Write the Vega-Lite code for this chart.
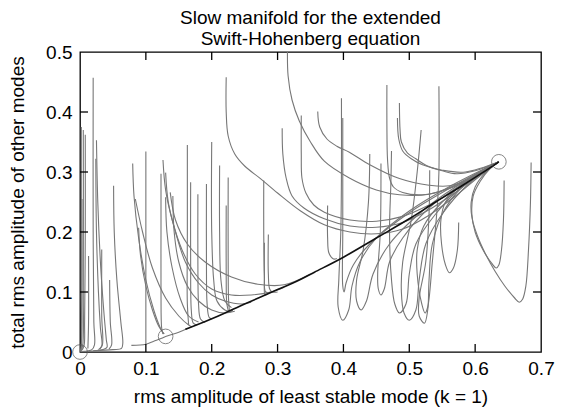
{
  "$schema": "https://vega.github.io/schema/vega-lite/v6.json",
  "autosize": "none",
  "width": 461,
  "height": 300,
  "padding": {"left": 80, "top": 52, "right": 29, "bottom": 62},
  "background": "white",
  "config": {
    "font": "Liberation Sans",
    "view": {"stroke": "#000", "strokeWidth": 1.3},
    "axis": {"domain": false, "ticks": false, "tickSize": 0, "grid": false, "labelColor": "#000", "titleColor": "#000", "labelFontSize": 19, "titleFontSize": 19, "titleFontWeight": "normal", "labelFont": "Liberation Sans", "titleFont": "Liberation Sans", "labelFlush": false, "labelOverlap": false}
  },
  "title": {"text": ["Slow manifold for the extended", "Swift-Hohenberg equation"], "fontSize": 19, "fontWeight": "normal", "font": "Liberation Sans", "color": "#000", "anchor": "middle", "frame": "group", "offset": -6, "lineHeight": 21},
  "datasets": {
    "xt": [{"v":0.1},{"v":0.2},{"v":0.3},{"v":0.4},{"v":0.5},{"v":0.6}],
    "yt": [{"v":0.1},{"v":0.2},{"v":0.3},{"v":0.4}],
    "traj": [
      {"i":"A1","o":1,"x":0.002,"y":0.375},{"i":"A1","o":2,"x":0.002,"y":0.1},{"i":"A1","o":3,"x":0.002,"y":0.01},{"i":"A1","o":4,"x":0,"y":0},
      {"i":"A2","o":1,"x":0.005,"y":0.37},{"i":"A2","o":2,"x":0.005,"y":0.1},{"i":"A2","o":3,"x":0.004,"y":0.01},{"i":"A2","o":4,"x":0.001,"y":0.001},
      {"i":"A3","o":1,"x":0.008,"y":0.362},{"i":"A3","o":2,"x":0.008,"y":0.2},{"i":"A3","o":3,"x":0.007,"y":0.05},{"i":"A3","o":4,"x":0.006,"y":0.01},{"i":"A3","o":5,"x":0.002,"y":0.002},
      {"i":"A4","o":1,"x":0.003,"y":0.255},{"i":"A4","o":2,"x":0.003,"y":0.05},{"i":"A4","o":3,"x":0.002,"y":0.005},
      {"i":"A5","o":1,"x":0.02,"y":0.457},{"i":"A5","o":2,"x":0.02,"y":0.2},{"i":"A5","o":3,"x":0.021,"y":0.05},{"i":"A5","o":4,"x":0.022,"y":0.012},{"i":"A5","o":5,"x":0.018,"y":0.004},{"i":"A5","o":6,"x":0.005,"y":0.001},
      {"i":"A6","o":1,"x":0.025,"y":0.353},{"i":"A6","o":2,"x":0.027,"y":0.25},{"i":"A6","o":3,"x":0.031,"y":0.15},{"i":"A6","o":4,"x":0.036,"y":0.07},{"i":"A6","o":5,"x":0.04,"y":0.02},{"i":"A6","o":6,"x":0.041,"y":0.008},{"i":"A6","o":7,"x":0.035,"y":0.004},{"i":"A6","o":8,"x":0.01,"y":0.001},
      {"i":"A7","o":1,"x":0.024,"y":0.322},{"i":"A7","o":2,"x":0.025,"y":0.2},{"i":"A7","o":3,"x":0.028,"y":0.1},{"i":"A7","o":4,"x":0.031,"y":0.04},{"i":"A7","o":5,"x":0.033,"y":0.01},{"i":"A7","o":6,"x":0.028,"y":0.004},
      {"i":"A8","o":1,"x":0.033,"y":0.171},{"i":"A8","o":2,"x":0.033,"y":0.06},{"i":"A8","o":3,"x":0.034,"y":0.012},{"i":"A8","o":4,"x":0.03,"y":0.005},
      {"i":"A9","o":1,"x":0.051,"y":0.277},{"i":"A9","o":2,"x":0.052,"y":0.2},{"i":"A9","o":3,"x":0.056,"y":0.12},{"i":"A9","o":4,"x":0.062,"y":0.05},{"i":"A9","o":5,"x":0.065,"y":0.015},{"i":"A9","o":6,"x":0.063,"y":0.006},{"i":"A9","o":7,"x":0.05,"y":0.004},{"i":"A9","o":8,"x":0.02,"y":0.002},
      {"i":"A10","o":1,"x":0.013,"y":0.16},{"i":"A10","o":2,"x":0.013,"y":0.05},{"i":"A10","o":3,"x":0.012,"y":0.006},
      {"i":"A11","o":1,"x":0.045,"y":0.12},{"i":"A11","o":2,"x":0.046,"y":0.05},{"i":"A11","o":3,"x":0.048,"y":0.012},{"i":"A11","o":4,"x":0.044,"y":0.005},
      {"i":"B1","o":1,"x":0.08,"y":0.314},{"i":"B1","o":2,"x":0.082,"y":0.26},{"i":"B1","o":3,"x":0.089,"y":0.19},{"i":"B1","o":4,"x":0.1,"y":0.12},{"i":"B1","o":5,"x":0.112,"y":0.07},{"i":"B1","o":6,"x":0.122,"y":0.04},{"i":"B1","o":7,"x":0.127,"y":0.03},
      {"i":"B2","o":1,"x":0.089,"y":0.207},{"i":"B2","o":2,"x":0.092,"y":0.16},{"i":"B2","o":3,"x":0.1,"y":0.11},{"i":"B2","o":4,"x":0.11,"y":0.07},{"i":"B2","o":5,"x":0.12,"y":0.042},{"i":"B2","o":6,"x":0.128,"y":0.03},
      {"i":"B3","o":1,"x":0.1,"y":0.334},{"i":"B3","o":2,"x":0.1,"y":0.2},{"i":"B3","o":3,"x":0.1,"y":0.05},{"i":"B3","o":4,"x":0.1,"y":0.013},
      {"i":"B4","o":1,"x":0.123,"y":0.297},{"i":"B4","o":2,"x":0.123,"y":0.2},{"i":"B4","o":3,"x":0.123,"y":0.1},{"i":"B4","o":4,"x":0.124,"y":0.04},{"i":"B4","o":5,"x":0.126,"y":0.03},
      {"i":"G","o":1,"x":0.078,"y":0.011},{"i":"G","o":2,"x":0.1,"y":0.013},{"i":"G","o":3,"x":0.112,"y":0.018},{"i":"G","o":4,"x":0.124,"y":0.023},{"i":"G","o":5,"x":0.13,"y":0.026},{"i":"G","o":6,"x":0.15,"y":0.033},{"i":"G","o":7,"x":0.165,"y":0.04},
      {"i":"C1","o":1,"x":0.13,"y":0.299},{"i":"C1","o":2,"x":0.134,"y":0.25},{"i":"C1","o":3,"x":0.145,"y":0.2},{"i":"C1","o":4,"x":0.16,"y":0.15},{"i":"C1","o":5,"x":0.18,"y":0.115},{"i":"C1","o":6,"x":0.2,"y":0.095},{"i":"C1","o":7,"x":0.22,"y":0.085},{"i":"C1","o":8,"x":0.245,"y":0.08},{"i":"C1","o":9,"x":0.26,"y":0.083},
      {"i":"C2","o":1,"x":0.141,"y":0.26},{"i":"C2","o":2,"x":0.143,"y":0.2},{"i":"C2","o":3,"x":0.15,"y":0.15},{"i":"C2","o":4,"x":0.163,"y":0.11},{"i":"C2","o":5,"x":0.18,"y":0.085},{"i":"C2","o":6,"x":0.2,"y":0.07},{"i":"C2","o":7,"x":0.22,"y":0.065},{"i":"C2","o":8,"x":0.235,"y":0.068},
      {"i":"C3","o":1,"x":0.126,"y":0.32},{"i":"C3","o":2,"x":0.13,"y":0.27},{"i":"C3","o":3,"x":0.14,"y":0.22},{"i":"C3","o":4,"x":0.155,"y":0.17},{"i":"C3","o":5,"x":0.175,"y":0.13},{"i":"C3","o":6,"x":0.2,"y":0.105},{"i":"C3","o":7,"x":0.23,"y":0.095},{"i":"C3","o":8,"x":0.26,"y":0.095},{"i":"C3","o":9,"x":0.29,"y":0.1},{"i":"C3","o":10,"x":0.31,"y":0.108},
      {"i":"C4","o":1,"x":0.084,"y":0.255},{"i":"C4","o":2,"x":0.095,"y":0.2},{"i":"C4","o":3,"x":0.11,"y":0.14},{"i":"C4","o":4,"x":0.13,"y":0.09},{"i":"C4","o":5,"x":0.15,"y":0.06},{"i":"C4","o":6,"x":0.165,"y":0.045},{"i":"C4","o":7,"x":0.17,"y":0.042},
      {"i":"C5","o":1,"x":0.13,"y":0.258},{"i":"C5","o":2,"x":0.132,"y":0.2},{"i":"C5","o":3,"x":0.14,"y":0.14},{"i":"C5","o":4,"x":0.152,"y":0.09},{"i":"C5","o":5,"x":0.165,"y":0.06},{"i":"C5","o":6,"x":0.18,"y":0.05},
      {"i":"C6","o":1,"x":0.137,"y":0.266},{"i":"C6","o":2,"x":0.145,"y":0.22},{"i":"C6","o":3,"x":0.163,"y":0.18},{"i":"C6","o":4,"x":0.19,"y":0.15},{"i":"C6","o":5,"x":0.23,"y":0.125},{"i":"C6","o":6,"x":0.27,"y":0.113},{"i":"C6","o":7,"x":0.31,"y":0.112},{"i":"C6","o":8,"x":0.35,"y":0.13},
      {"i":"E1","o":1,"x":0.163,"y":0.345},{"i":"E1","o":2,"x":0.163,"y":0.2},{"i":"E1","o":3,"x":0.163,"y":0.08},{"i":"E1","o":4,"x":0.165,"y":0.045},
      {"i":"E2","o":1,"x":0.168,"y":0.283},{"i":"E2","o":2,"x":0.168,"y":0.15},{"i":"E2","o":3,"x":0.169,"y":0.07},{"i":"E2","o":4,"x":0.172,"y":0.048},{"i":"E2","o":5,"x":0.178,"y":0.045},
      {"i":"E3","o":1,"x":0.179,"y":0.263},{"i":"E3","o":2,"x":0.179,"y":0.15},{"i":"E3","o":3,"x":0.18,"y":0.08},{"i":"E3","o":4,"x":0.183,"y":0.055},{"i":"E3","o":5,"x":0.19,"y":0.049},
      {"i":"E4","o":1,"x":0.192,"y":0.28},{"i":"E4","o":2,"x":0.192,"y":0.15},{"i":"E4","o":3,"x":0.193,"y":0.08},{"i":"E4","o":4,"x":0.196,"y":0.058},{"i":"E4","o":5,"x":0.2,"y":0.055},
      {"i":"E5","o":1,"x":0.2,"y":0.35},{"i":"E5","o":2,"x":0.2,"y":0.2},{"i":"E5","o":3,"x":0.203,"y":0.12},{"i":"E5","o":4,"x":0.208,"y":0.085},{"i":"E5","o":5,"x":0.22,"y":0.07},{"i":"E5","o":6,"x":0.226,"y":0.068},
      {"i":"E6","o":1,"x":0.212,"y":0.311},{"i":"E6","o":2,"x":0.212,"y":0.2},{"i":"E6","o":3,"x":0.214,"y":0.12},{"i":"E6","o":4,"x":0.22,"y":0.085},{"i":"E6","o":5,"x":0.23,"y":0.074},
      {"i":"E7","o":1,"x":0.225,"y":0.291},{"i":"E7","o":2,"x":0.225,"y":0.15},{"i":"E7","o":3,"x":0.226,"y":0.08},{"i":"E7","o":4,"x":0.228,"y":0.067},{"i":"E7","o":5,"x":0.232,"y":0.07},
      {"i":"E8","o":1,"x":0.222,"y":0.244},{"i":"E8","o":2,"x":0.222,"y":0.13},{"i":"E8","o":3,"x":0.223,"y":0.08},{"i":"E8","o":4,"x":0.226,"y":0.066},
      {"i":"E9","o":1,"x":0.279,"y":0.286},{"i":"E9","o":2,"x":0.279,"y":0.2},{"i":"E9","o":3,"x":0.28,"y":0.13},{"i":"E9","o":4,"x":0.282,"y":0.1},{"i":"E9","o":5,"x":0.29,"y":0.1},
      {"i":"E10","o":1,"x":0.28,"y":0.182},{"i":"E10","o":2,"x":0.28,"y":0.12},{"i":"E10","o":3,"x":0.281,"y":0.095},{"i":"E10","o":4,"x":0.285,"y":0.097},
      {"i":"E11","o":1,"x":0.286,"y":0.196},{"i":"E11","o":2,"x":0.286,"y":0.13},{"i":"E11","o":3,"x":0.288,"y":0.105},{"i":"E11","o":4,"x":0.292,"y":0.1},{"i":"E11","o":5,"x":0.3,"y":0.1},
      {"i":"F1","o":1,"x":0.376,"y":0.244},{"i":"F1","o":2,"x":0.376,"y":0.19},{"i":"F1","o":3,"x":0.378,"y":0.165},{"i":"F1","o":4,"x":0.385,"y":0.155},{"i":"F1","o":5,"x":0.39,"y":0.156},
      {"i":"D1","o":1,"x":0.315,"y":0.5},{"i":"D1","o":2,"x":0.316,"y":0.46},{"i":"D1","o":3,"x":0.322,"y":0.42},{"i":"D1","o":4,"x":0.333,"y":0.385},{"i":"D1","o":5,"x":0.35,"y":0.35},{"i":"D1","o":6,"x":0.371,"y":0.318},{"i":"D1","o":7,"x":0.409,"y":0.29},{"i":"D1","o":8,"x":0.45,"y":0.27},{"i":"D1","o":9,"x":0.485,"y":0.262},{"i":"D1","o":10,"x":0.53,"y":0.263},{"i":"D1","o":11,"x":0.57,"y":0.278},{"i":"D1","o":12,"x":0.61,"y":0.3},{"i":"D1","o":13,"x":0.636,"y":0.317},
      {"i":"D2","o":1,"x":0.222,"y":0.458},{"i":"D2","o":2,"x":0.222,"y":0.4},{"i":"D2","o":3,"x":0.225,"y":0.36},{"i":"D2","o":4,"x":0.235,"y":0.33},{"i":"D2","o":5,"x":0.25,"y":0.31},{"i":"D2","o":6,"x":0.274,"y":0.289},{"i":"D2","o":7,"x":0.3,"y":0.265},{"i":"D2","o":8,"x":0.335,"y":0.235},{"i":"D2","o":9,"x":0.371,"y":0.212},{"i":"D2","o":10,"x":0.41,"y":0.2},{"i":"D2","o":11,"x":0.45,"y":0.197},{"i":"D2","o":12,"x":0.49,"y":0.205},{"i":"D2","o":13,"x":0.53,"y":0.228},{"i":"D2","o":14,"x":0.57,"y":0.26},{"i":"D2","o":15,"x":0.6,"y":0.287},{"i":"D2","o":16,"x":0.636,"y":0.317},
      {"i":"D3","o":1,"x":0.307,"y":0.373},{"i":"D3","o":2,"x":0.308,"y":0.33},{"i":"D3","o":3,"x":0.313,"y":0.29},{"i":"D3","o":4,"x":0.322,"y":0.26},{"i":"D3","o":5,"x":0.34,"y":0.24},{"i":"D3","o":6,"x":0.371,"y":0.222},{"i":"D3","o":7,"x":0.41,"y":0.21},{"i":"D3","o":8,"x":0.45,"y":0.208},{"i":"D3","o":9,"x":0.49,"y":0.216},{"i":"D3","o":10,"x":0.53,"y":0.237},{"i":"D3","o":11,"x":0.57,"y":0.266},{"i":"D3","o":12,"x":0.6,"y":0.29},{"i":"D3","o":13,"x":0.636,"y":0.317},
      {"i":"D4","o":1,"x":0.336,"y":0.394},{"i":"D4","o":2,"x":0.336,"y":0.33},{"i":"D4","o":3,"x":0.337,"y":0.29},{"i":"D4","o":4,"x":0.343,"y":0.265},{"i":"D4","o":5,"x":0.355,"y":0.245},{"i":"D4","o":6,"x":0.371,"y":0.233},{"i":"D4","o":7,"x":0.41,"y":0.22},{"i":"D4","o":8,"x":0.45,"y":0.218},{"i":"D4","o":9,"x":0.49,"y":0.226},{"i":"D4","o":10,"x":0.53,"y":0.245},{"i":"D4","o":11,"x":0.57,"y":0.27},{"i":"D4","o":12,"x":0.6,"y":0.292},{"i":"D4","o":13,"x":0.636,"y":0.317},
      {"i":"D5","o":1,"x":0.361,"y":0.401},{"i":"D5","o":2,"x":0.364,"y":0.375},{"i":"D5","o":3,"x":0.375,"y":0.355},{"i":"D5","o":4,"x":0.39,"y":0.343},{"i":"D5","o":5,"x":0.409,"y":0.333},{"i":"D5","o":6,"x":0.44,"y":0.312},{"i":"D5","o":7,"x":0.485,"y":0.289},{"i":"D5","o":8,"x":0.53,"y":0.278},{"i":"D5","o":9,"x":0.561,"y":0.277},{"i":"D5","o":10,"x":0.6,"y":0.292},{"i":"D5","o":11,"x":0.636,"y":0.317},
      {"i":"D6","o":1,"x":0.485,"y":0.415},{"i":"D6","o":2,"x":0.486,"y":0.37},{"i":"D6","o":3,"x":0.488,"y":0.35},{"i":"D6","o":4,"x":0.497,"y":0.332},{"i":"D6","o":5,"x":0.51,"y":0.322},{"i":"D6","o":6,"x":0.526,"y":0.311},{"i":"D6","o":7,"x":0.55,"y":0.302},{"i":"D6","o":8,"x":0.572,"y":0.297},{"i":"D6","o":9,"x":0.6,"y":0.302},{"i":"D6","o":10,"x":0.636,"y":0.317},
      {"i":"D7","o":1,"x":0.482,"y":0.39},{"i":"D7","o":2,"x":0.484,"y":0.355},{"i":"D7","o":3,"x":0.49,"y":0.335},{"i":"D7","o":4,"x":0.503,"y":0.322},{"i":"D7","o":5,"x":0.52,"y":0.312},{"i":"D7","o":6,"x":0.55,"y":0.303},{"i":"D7","o":7,"x":0.585,"y":0.3},{"i":"D7","o":8,"x":0.636,"y":0.317},
      {"i":"D8","o":1,"x":0.466,"y":0.445},{"i":"D8","o":2,"x":0.466,"y":0.38},{"i":"D8","o":3,"x":0.467,"y":0.32},{"i":"D8","o":4,"x":0.47,"y":0.29},{"i":"D8","o":5,"x":0.476,"y":0.275},{"i":"D8","o":6,"x":0.49,"y":0.266},{"i":"D8","o":7,"x":0.52,"y":0.262},{"i":"D8","o":8,"x":0.56,"y":0.272},{"i":"D8","o":9,"x":0.6,"y":0.292},{"i":"D8","o":10,"x":0.636,"y":0.317},
      {"i":"L1","o":1,"x":0.397,"y":0.423},{"i":"L1","o":2,"x":0.397,"y":0.3},{"i":"L1","o":3,"x":0.396,"y":0.2},{"i":"L1","o":4,"x":0.393,"y":0.12},{"i":"L1","o":5,"x":0.392,"y":0.075},{"i":"L1","o":6,"x":0.399,"y":0.053},{"i":"L1","o":7,"x":0.408,"y":0.07},{"i":"L1","o":8,"x":0.413,"y":0.11},{"i":"L1","o":9,"x":0.425,"y":0.15},{"i":"L1","o":10,"x":0.45,"y":0.19},{"i":"L1","o":11,"x":0.5,"y":0.235},{"i":"L1","o":12,"x":0.56,"y":0.275},{"i":"L1","o":13,"x":0.636,"y":0.317},
      {"i":"L1b","o":1,"x":0.399,"y":0.39},{"i":"L1b","o":2,"x":0.399,"y":0.2},{"i":"L1b","o":3,"x":0.399,"y":0.11},{"i":"L1b","o":4,"x":0.401,"y":0.1},{"i":"L1b","o":5,"x":0.404,"y":0.115},{"i":"L1b","o":6,"x":0.415,"y":0.145},{"i":"L1b","o":7,"x":0.44,"y":0.18},{"i":"L1b","o":8,"x":0.5,"y":0.232},{"i":"L1b","o":9,"x":0.56,"y":0.272},{"i":"L1b","o":10,"x":0.636,"y":0.317},
      {"i":"L2","o":1,"x":0.44,"y":0.33},{"i":"L2","o":2,"x":0.438,"y":0.25},{"i":"L2","o":3,"x":0.43,"y":0.17},{"i":"L2","o":4,"x":0.42,"y":0.12},{"i":"L2","o":5,"x":0.42,"y":0.085},{"i":"L2","o":6,"x":0.427,"y":0.07},{"i":"L2","o":7,"x":0.435,"y":0.085},{"i":"L2","o":8,"x":0.445,"y":0.13},{"i":"L2","o":9,"x":0.47,"y":0.18},{"i":"L2","o":10,"x":0.52,"y":0.235},{"i":"L2","o":11,"x":0.57,"y":0.275},{"i":"L2","o":12,"x":0.636,"y":0.317},
      {"i":"L3","o":1,"x":0.457,"y":0.314},{"i":"L3","o":2,"x":0.456,"y":0.2},{"i":"L3","o":3,"x":0.452,"y":0.13},{"i":"L3","o":4,"x":0.453,"y":0.105},{"i":"L3","o":5,"x":0.457,"y":0.095},{"i":"L3","o":6,"x":0.462,"y":0.105},{"i":"L3","o":7,"x":0.47,"y":0.15},{"i":"L3","o":8,"x":0.49,"y":0.19},{"i":"L3","o":9,"x":0.53,"y":0.24},{"i":"L3","o":10,"x":0.58,"y":0.28},{"i":"L3","o":11,"x":0.636,"y":0.317},
      {"i":"L4","o":1,"x":0.473,"y":0.335},{"i":"L4","o":2,"x":0.472,"y":0.28},{"i":"L4","o":3,"x":0.47,"y":0.2},{"i":"L4","o":4,"x":0.473,"y":0.12},{"i":"L4","o":5,"x":0.478,"y":0.08},{"i":"L4","o":6,"x":0.485,"y":0.065},{"i":"L4","o":7,"x":0.495,"y":0.08},{"i":"L4","o":8,"x":0.5,"y":0.13},{"i":"L4","o":9,"x":0.51,"y":0.18},{"i":"L4","o":10,"x":0.54,"y":0.23},{"i":"L4","o":11,"x":0.58,"y":0.275},{"i":"L4","o":12,"x":0.636,"y":0.317},
      {"i":"L5","o":1,"x":0.518,"y":0.37},{"i":"L5","o":2,"x":0.512,"y":0.3},{"i":"L5","o":3,"x":0.503,"y":0.22},{"i":"L5","o":4,"x":0.49,"y":0.15},{"i":"L5","o":5,"x":0.488,"y":0.1},{"i":"L5","o":6,"x":0.492,"y":0.065},{"i":"L5","o":7,"x":0.5,"y":0.053},{"i":"L5","o":8,"x":0.51,"y":0.07},{"i":"L5","o":9,"x":0.515,"y":0.12},{"i":"L5","o":10,"x":0.525,"y":0.18},{"i":"L5","o":11,"x":0.55,"y":0.23},{"i":"L5","o":12,"x":0.59,"y":0.28},{"i":"L5","o":13,"x":0.636,"y":0.317},
      {"i":"L6","o":1,"x":0.531,"y":0.303},{"i":"L6","o":2,"x":0.53,"y":0.23},{"i":"L6","o":3,"x":0.525,"y":0.15},{"i":"L6","o":4,"x":0.515,"y":0.09},{"i":"L6","o":5,"x":0.515,"y":0.06},{"i":"L6","o":6,"x":0.523,"y":0.048},{"i":"L6","o":7,"x":0.528,"y":0.07},{"i":"L6","o":8,"x":0.53,"y":0.12},{"i":"L6","o":9,"x":0.535,"y":0.18},{"i":"L6","o":10,"x":0.555,"y":0.24},{"i":"L6","o":11,"x":0.59,"y":0.285},{"i":"L6","o":12,"x":0.636,"y":0.317},
      {"i":"L7","o":1,"x":0.545,"y":0.443},{"i":"L7","o":2,"x":0.545,"y":0.3},{"i":"L7","o":3,"x":0.543,"y":0.25},{"i":"L7","o":4,"x":0.535,"y":0.15},{"i":"L7","o":5,"x":0.528,"y":0.075},{"i":"L7","o":6,"x":0.524,"y":0.065},{"i":"L7","o":7,"x":0.519,"y":0.08},{"i":"L7","o":8,"x":0.512,"y":0.13},{"i":"L7","o":9,"x":0.512,"y":0.17},{"i":"L7","o":10,"x":0.522,"y":0.21},{"i":"L7","o":11,"x":0.55,"y":0.25},{"i":"L7","o":12,"x":0.6,"y":0.295},{"i":"L7","o":13,"x":0.636,"y":0.317},
      {"i":"L8","o":1,"x":0.575,"y":0.216},{"i":"L8","o":2,"x":0.573,"y":0.17},{"i":"L8","o":3,"x":0.567,"y":0.14},{"i":"L8","o":4,"x":0.561,"y":0.132},{"i":"L8","o":5,"x":0.555,"y":0.145},{"i":"L8","o":6,"x":0.549,"y":0.18},{"i":"L8","o":7,"x":0.548,"y":0.22},{"i":"L8","o":8,"x":0.555,"y":0.25},{"i":"L8","o":9,"x":0.58,"y":0.28},{"i":"L8","o":10,"x":0.61,"y":0.302},{"i":"L8","o":11,"x":0.636,"y":0.317},
      {"i":"R1","o":1,"x":0.685,"y":0.316},{"i":"R1","o":2,"x":0.684,"y":0.25},{"i":"R1","o":3,"x":0.681,"y":0.17},{"i":"R1","o":4,"x":0.677,"y":0.11},{"i":"R1","o":5,"x":0.672,"y":0.088},{"i":"R1","o":6,"x":0.667,"y":0.083},{"i":"R1","o":7,"x":0.66,"y":0.09},{"i":"R1","o":8,"x":0.645,"y":0.11},{"i":"R1","o":9,"x":0.63,"y":0.135},{"i":"R1","o":10,"x":0.615,"y":0.165},{"i":"R1","o":11,"x":0.603,"y":0.195},{"i":"R1","o":12,"x":0.595,"y":0.225},{"i":"R1","o":13,"x":0.594,"y":0.25},{"i":"R1","o":14,"x":0.6,"y":0.275},{"i":"R1","o":15,"x":0.615,"y":0.298},{"i":"R1","o":16,"x":0.636,"y":0.317},
      {"i":"R2","o":1,"x":0.644,"y":0.286},{"i":"R2","o":2,"x":0.643,"y":0.22},{"i":"R2","o":3,"x":0.64,"y":0.17},{"i":"R2","o":4,"x":0.636,"y":0.145},{"i":"R2","o":5,"x":0.632,"y":0.14},{"i":"R2","o":6,"x":0.625,"y":0.148},{"i":"R2","o":7,"x":0.612,"y":0.17},{"i":"R2","o":8,"x":0.6,"y":0.2},{"i":"R2","o":9,"x":0.595,"y":0.23},{"i":"R2","o":10,"x":0.597,"y":0.26},{"i":"R2","o":11,"x":0.608,"y":0.285},{"i":"R2","o":12,"x":0.622,"y":0.305},{"i":"R2","o":13,"x":0.636,"y":0.317}
    ],
    "manifold": [
      {"o":1,"x":0.16,"y":0.038},{"o":2,"x":0.17,"y":0.042},{"o":3,"x":0.21,"y":0.06},{"o":4,"x":0.25,"y":0.08},{"o":5,"x":0.3,"y":0.104},{"o":6,"x":0.333,"y":0.12},{"o":7,"x":0.356,"y":0.133},{"o":8,"x":0.4,"y":0.158},{"o":9,"x":0.45,"y":0.19},{"o":10,"x":0.5,"y":0.222},{"o":11,"x":0.54,"y":0.25},{"o":12,"x":0.58,"y":0.277},{"o":13,"x":0.61,"y":0.298},{"o":14,"x":0.636,"y":0.317}
    ],
    "fixed": [
      {"x":0,"y":0},{"x":0.13,"y":0.026},{"x":0.636,"y":0.317}
    ]
  },
  "layer": [
    {
      "data": {"name": "traj"},
      "mark": {"type": "line", "stroke": "#777", "strokeWidth": 1.1, "clip": true, "interpolate": "catmull-rom"},
      "encoding": {
        "x": {"field": "x", "type": "quantitative", "scale": {"domain": [0, 0.7], "nice": false, "zero": false},
              "axis": {"orient": "bottom", "values": [0,0.1,0.2,0.3,0.4,0.5,0.6,0.7], "format": ".1~f", "labelPadding": 7, "title": "rms amplitude of least stable mode (k = 1)", "titlePadding": 9}},
        "y": {"field": "y", "type": "quantitative", "scale": {"domain": [0, 0.5], "nice": false, "zero": false},
              "axis": {"orient": "left", "values": [0,0.1,0.2,0.3,0.4,0.5], "format": ".1~f", "labelPadding": 8, "title": "total rms amplitude of other modes", "titlePadding": 18}},
        "detail": {"field": "i"},
        "order": {"field": "o", "type": "quantitative"}
      }
    },
    {
      "data": {"name": "manifold"},
      "mark": {"type": "line", "stroke": "#111", "strokeWidth": 1.6, "interpolate": "catmull-rom"},
      "encoding": {
        "x": {"field": "x", "type": "quantitative"},
        "y": {"field": "y", "type": "quantitative"},
        "order": {"field": "o", "type": "quantitative"}
      }
    },
    {
      "data": {"name": "xt"},
      "mark": {"type": "point", "shape": "M0,0L0,-1", "size": 256, "filled": false, "stroke": "#000", "strokeWidth": 1.3, "opacity": 1},
      "encoding": {
        "x": {"field": "v", "type": "quantitative"},
        "y": {"datum": 0, "type": "quantitative"}
      }
    },
    {
      "data": {"name": "xt"},
      "mark": {"type": "point", "shape": "M0,0L0,1", "size": 256, "filled": false, "stroke": "#000", "strokeWidth": 1.3, "opacity": 1},
      "encoding": {
        "x": {"field": "v", "type": "quantitative"},
        "y": {"datum": 0.5, "type": "quantitative"}
      }
    },
    {
      "data": {"name": "yt"},
      "mark": {"type": "point", "shape": "M0,0L1,0", "size": 256, "filled": false, "stroke": "#000", "strokeWidth": 1.3, "opacity": 1},
      "encoding": {
        "y": {"field": "v", "type": "quantitative"},
        "x": {"datum": 0, "type": "quantitative"}
      }
    },
    {
      "data": {"name": "yt"},
      "mark": {"type": "point", "shape": "M0,0L-1,0", "size": 256, "filled": false, "stroke": "#000", "strokeWidth": 1.3, "opacity": 1},
      "encoding": {
        "y": {"field": "v", "type": "quantitative"},
        "x": {"datum": 0.7, "type": "quantitative"}
      }
    },
    {
      "data": {"name": "fixed"},
      "mark": {"type": "point", "shape": "circle", "size": 215, "filled": false, "stroke": "#555", "strokeWidth": 1, "clip": false},
      "encoding": {
        "x": {"field": "x", "type": "quantitative"},
        "y": {"field": "y", "type": "quantitative"}
      }
    }
  ]
}
